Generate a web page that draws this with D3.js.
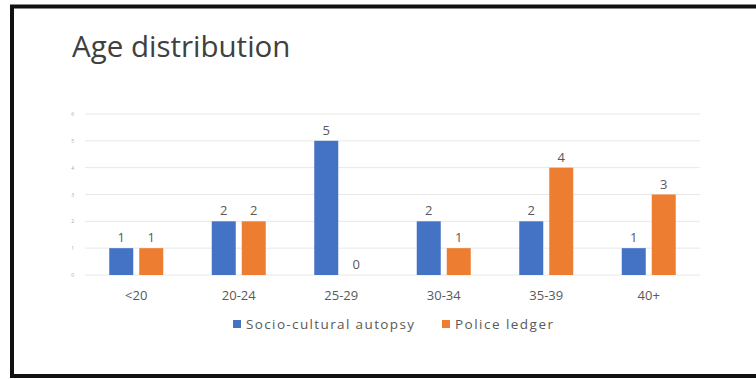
<!DOCTYPE html>
<html>
<head>
<meta charset="utf-8">
<script src="https://cdn.jsdelivr.net/npm/d3@7"></script>
<style>
  html, body { margin: 0; padding: 0; background: #fff; }
  svg { display: block; }
</style>
</head>
<body>
<svg id="chart" width="756" height="379"></svg>
<script>
// Age groups and counts from each source
const categories = ["<20", "20-24", "25-29", "30-34", "35-39", "40+"];
const seriesNames = ["Socio-cultural autopsy", "Police ledger"];
const autopsyValues = [1, 2, 5, 2, 2, 1];
const ledgerValues = [1, 2, 0, 1, 4, 3];
const yTicks = [0, 1, 2, 3, 4, 5, 6];
const colors = ["#4472C4", "#ED7D31"];

const svg = d3.select("#chart");
const W = 756;
const FONT = "Open Sans, sans-serif";

// Slide frame
svg.append("rect")
  .attr("x", 12).attr("y", 6.5)
  .attr("width", W + 20).attr("height", 369.5)
  .attr("fill", "#fff")
  .attr("stroke", "#111").attr("stroke-width", 4);

// Title
svg.append("text")
  .attr("x", 72).attr("y", 57)
  .attr("font-family", FONT)
  .attr("font-size", 29.5)
  .attr("fill", "#404040")
  .text("Age distribution");

const plot = { left: 85, right: 700, top: 114, bottom: 275 };

const x = d3.scaleBand().domain(categories).range([plot.left, plot.right]);
const y = d3.scaleLinear().domain([0, 6]).range([plot.bottom, plot.top]);
const barW = 24, innerGap = 6;

// Gridlines
svg.append("g").selectAll("line").data(yTicks).join("line")
  .attr("x1", plot.left).attr("x2", plot.right)
  .attr("y1", d => y(d)).attr("y2", d => y(d))
  .attr("stroke", "#e8e8e8").attr("stroke-width", 1);

// Y axis (tiny labels)
const yAxis = svg.append("g")
  .attr("transform", `translate(${plot.left - 11},0)`)
  .call(d3.axisLeft(y).tickValues(yTicks).tickFormat(d3.format("d")).tickSize(0).tickPadding(0));
yAxis.select(".domain").remove();
yAxis.selectAll("text")
  .attr("font-family", FONT)
  .attr("font-size", 5).attr("fill", "#aaa");

// X axis labels
const xAxis = svg.append("g")
  .attr("transform", `translate(0,${plot.bottom})`)
  .call(d3.axisBottom(x).tickSize(0).tickPadding(16));
xAxis.select(".domain").remove();
xAxis.selectAll("text")
  .attr("font-family", FONT)
  .attr("font-size", 13).attr("fill", "#595959");

// Bars with value labels
const series = [autopsyValues, ledgerValues];
series.forEach((vals, si) => {
  const offset = si === 0 ? -(barW + innerGap / 2) : innerGap / 2;
  const g = svg.append("g");
  g.selectAll("rect").data(vals).join("rect")
    .attr("x", (d, i) => x(categories[i]) + x.bandwidth() / 2 + offset)
    .attr("y", d => y(d))
    .attr("width", barW)
    .attr("height", d => y(0) - y(d))
    .attr("fill", colors[si]);
  g.selectAll("text").data(vals).join("text")
    .attr("x", (d, i) => x(categories[i]) + x.bandwidth() / 2 + offset + barW / 2)
    .attr("y", d => y(d) - 6)
    .attr("text-anchor", "middle")
    .attr("font-family", FONT)
    .attr("font-size", 13).attr("fill", "#595959")
    .text(d => d);
});

// Legend
const legendItems = [
  { name: seriesNames[0], color: colors[0], x: 233, w: 168 },
  { name: seriesNames[1], color: colors[1], x: 442, w: 98 }
];
const lg = svg.append("g");
legendItems.forEach(it => {
  lg.append("rect").attr("x", it.x).attr("y", 320).attr("width", 8).attr("height", 8).attr("fill", it.color);
  lg.append("text").attr("x", it.x + 13).attr("y", 328.5)
    .attr("font-family", FONT)
    .attr("font-size", 13.5).attr("fill", "#595959")
    .attr("textLength", it.w).attr("lengthAdjust", "spacing")
    .text(it.name);
});
</script>
</body>
</html>
